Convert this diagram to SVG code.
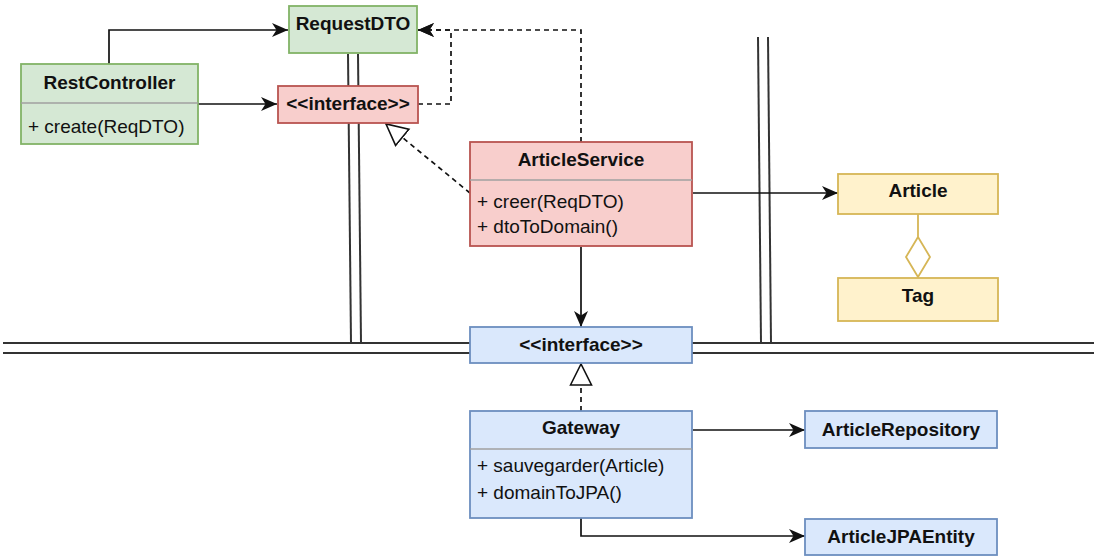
<svg xmlns="http://www.w3.org/2000/svg" width="1096" height="557" viewBox="0 0 1096 557">
<style>
text{font-family:"Liberation Sans",Arial,sans-serif;font-size:19px;fill:#111}
.t{font-weight:bold;text-anchor:middle}
.g rect{fill:#d5e8d4;stroke:#82b366;stroke-width:1.8}
.r rect{fill:#f8cecc;stroke:#b85450;stroke-width:1.8}
.b rect{fill:#dae8fc;stroke:#6c8ebf;stroke-width:1.8}
.y rect{fill:#fff2cc;stroke:#d6b656;stroke-width:1.8}
.div{stroke:#a0a0a0;stroke-width:1.5}
.bd{stroke:#333;stroke-width:2;fill:none}
.c{fill:none;stroke:#111;stroke-width:1.7}
.d{stroke-dasharray:5 4}
</style>
<defs>
<marker id="arr" markerUnits="userSpaceOnUse" markerWidth="18" markerHeight="16" refX="16" refY="8" orient="auto">
<path d="M0,1 L16,8 L0,15 L4.5,8 z" fill="#111"/>
</marker>
<marker id="tri" markerUnits="userSpaceOnUse" markerWidth="24" markerHeight="26" refX="22" refY="12" orient="auto">
<path d="M1,1.5 L22,12 L1,22.5 z" fill="#fff" stroke="#111" stroke-width="1.6"/>
</marker>
</defs>
<g id="boundaries">
<line class="bd" x1="3" y1="343" x2="1094" y2="343"/>
<line class="bd" x1="3" y1="353" x2="1094" y2="353"/>
<line class="bd" x1="348" y1="54" x2="351" y2="343"/>
<line class="bd" x1="358" y1="54" x2="361" y2="343"/>
<line class="bd" x1="758" y1="37" x2="761" y2="343"/>
<line class="bd" x1="768" y1="37" x2="771" y2="343"/>
</g>
<g id="connectors">
<path class="c" d="M109,64 V30 H288" marker-end="url(#arr)"/>
<path class="c" d="M198,104 H277" marker-end="url(#arr)"/>
<path class="c d" d="M418,104 H451 V30 H418" marker-end="url(#arr)"/>
<path class="c d" d="M581,142 V30 H418" marker-end="url(#arr)"/>
<path class="c d" d="M470,193 L386,124" marker-end="url(#tri)"/>
<path class="c" d="M693,193 H838" marker-end="url(#arr)"/>
<path class="c" d="M581,247 V327" marker-end="url(#arr)"/>
<path class="c d" d="M581,411 V364" marker-end="url(#tri)"/>
<path class="c" d="M693,430 H805" marker-end="url(#arr)"/>
<path class="c" d="M581,518 V536 H805" marker-end="url(#arr)"/>
<path d="M918,212 V237 L930,257 L918,277 L906,257 L918,237" fill="none" stroke="#d6b656" stroke-width="1.8"/>
</g>
<g id="RequestDTO" class="g">
<rect x="289" y="6" width="128" height="47"/>
<text class="t" x="353" y="30">RequestDTO</text>
</g>
<g id="RestController" class="g">
<rect x="21" y="64" width="177" height="80"/>
<line class="div" x1="21" y1="103" x2="198" y2="103"/>
<text class="t" x="109.5" y="89">RestController</text>
<text x="28" y="133">+ create(ReqDTO)</text>
</g>
<g id="InterfaceIn" class="r">
<rect x="278" y="86" width="140" height="37"/>
<text class="t" x="348" y="110">&lt;&lt;interface&gt;&gt;</text>
</g>
<g id="ArticleService" class="r">
<rect x="470" y="142" width="222" height="104"/>
<line class="div" x1="470" y1="180" x2="692" y2="180"/>
<text class="t" x="581" y="166">ArticleService</text>
<text x="477" y="208">+ creer(ReqDTO)</text>
<text x="477" y="233">+ dtoToDomain()</text>
</g>
<g id="Article" class="y">
<rect x="838" y="174" width="160" height="40"/>
<text class="t" x="918" y="197">Article</text>
</g>
<g id="Tag" class="y">
<rect x="838" y="278" width="160" height="43"/>
<text class="t" x="918" y="302">Tag</text>
</g>
<g id="InterfaceOut" class="b">
<rect x="470" y="327" width="222" height="36"/>
<text class="t" x="581" y="351">&lt;&lt;interface&gt;&gt;</text>
</g>
<g id="Gateway" class="b">
<rect x="470" y="411" width="222" height="107"/>
<line class="div" x1="470" y1="449" x2="692" y2="449"/>
<text class="t" x="581" y="434">Gateway</text>
<text x="477" y="472">+ sauvegarder(Article)</text>
<text x="477" y="499">+ domainToJPA()</text>
</g>
<g id="ArticleRepository" class="b">
<rect x="805" y="411" width="192" height="37"/>
<text class="t" x="901" y="436">ArticleRepository</text>
</g>
<g id="ArticleJPAEntity" class="b">
<rect x="805" y="519" width="192" height="36"/>
<text class="t" x="901" y="543">ArticleJPAEntity</text>
</g>
</svg>
